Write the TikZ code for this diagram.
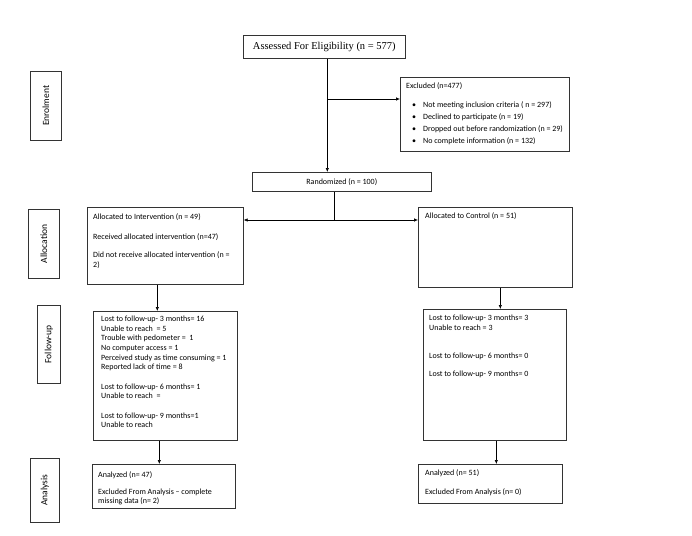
\documentclass[tikz,border=0pt]{standalone}
\usepackage{fontspec}
\setmainfont{Carlito}
\newfontfamily\serifx{Liberation Serif}
\usetikzlibrary{arrows.meta}
\begin{document}
\begin{tikzpicture}[x=1pt,y=-1pt,
  box/.style={draw=black!80, line width=0.6pt, inner sep=0pt, anchor=north west, rectangle},
  txt/.style={inner sep=0pt, anchor=base west, font=\fontsize{8}{9.7}\selectfont},
  sidetxt/.style={inner sep=0pt, rotate=90, font=\fontsize{9.5}{11}\selectfont},
  arr/.style={-{Latex[length=4pt,width=3.4pt]}, line width=0.6pt},
  ln/.style={line width=0.6pt}]
\useasboundingbox (0,0) rectangle (692,535);

% side labels
\node[box, minimum width=31pt, minimum height=69pt] (senr) at (30,71) {};
\node[sidetxt] (senrt) at (senr.center) {Enrolment};
\node[box, minimum width=31pt, minimum height=69pt] (salc) at (28,209) {};
\node[sidetxt] (salct) at (salc.center) {Allocation};
\node[box, minimum width=23pt, minimum height=78pt] (sfol) at (37,305) {};
\node[sidetxt] (sfolt) at (sfol.center) {Follow-up};
\node[box, minimum width=29pt, minimum height=64pt] (sana) at (30,458) {};
\node[sidetxt] (sanat) at (sana.center) {Analysis};

% boxes
\node[box, minimum width=162pt, minimum height=23pt] (assess) at (243,35) {};
\node[inner sep=0pt, font=\serifx\fontsize{10.5}{12}\selectfont] (assesst) at (assess.center) {Assessed For Eligibility (n = 577)};

\node[box, minimum width=169pt, minimum height=74pt] (excl) at (400,77) {};
\node[txt] (exclt) at (406,88.5) {Excluded (n=477)};
\node[txt] (exb1) at (412,107.5) {\textbullet};
\node[txt] (exb2) at (412,119.5) {\textbullet};
\node[txt] (exb3) at (412,131.5) {\textbullet};
\node[txt] (exb4) at (412,143.5) {\textbullet};
\node[txt] (ex1) at (423,107.5) {Not meeting inclusion criteria ( n = 297)};
\node[txt] (ex2) at (423,119.5) {Declined to participate (n = 19)};
\node[txt] (ex3) at (423,131.5) {Dropped out before randomization (n = 29)};
\node[txt] (ex4) at (423,143.5) {No complete information (n = 132)};

\node[box, minimum width=179pt, minimum height=19pt] (rand) at (252,172) {};
\node[inner sep=0pt, font=\fontsize{8}{9.7}\selectfont] (randt) at (rand.center) {Randomized (n = 100)};

\node[box, minimum width=156pt, minimum height=77pt] (int) at (87,207) {};
\node[txt] (int1) at (93,219.5) {Allocated to Intervention (n = 49)};
\node[txt] (int2) at (93,239.5) {Received allocated intervention (n=47)};
\node[txt] (int3) at (93,257.5) {Did not receive allocated intervention (n =};
\node[txt] (int4) at (93,267) {2)};

\node[box, minimum width=154pt, minimum height=80pt] (ctl) at (418,207) {};
\node[txt] (ctl1) at (425,218.5) {Allocated to Control (n = 51)};

\node[box, minimum width=144pt, minimum height=129pt] (fint) at (93,311) {};
\node[txt] (fi1) at (101,321.5) {Lost to follow-up- 3 months= 16};
\node[txt] (fi2) at (101,331.2) {Unable to reach~ = 5};
\node[txt] (fi3) at (101,340.8) {Trouble with pedometer = ~1};
\node[txt] (fi4) at (101,350.5) {No computer access = 1};
\node[txt] (fi5) at (101,360.2) {Perceived study as time consuming = 1};
\node[txt] (fi6) at (101,369.8) {Reported lack of time = 8};
\node[txt] (fi7) at (101,389.2) {Lost to follow-up- 6 months= 1};
\node[txt] (fi8) at (101,398.8) {Unable to reach~ =};
\node[txt] (fi9) at (101,418.2) {Lost to follow-up- 9 months=1};
\node[txt] (fi10) at (101,427.8) {Unable to reach};

\node[box, minimum width=143pt, minimum height=131pt] (fctl) at (423,309) {};
\node[txt] (fc1) at (429,320.5) {Lost to follow-up- 3 months= 3};
\node[txt] (fc2) at (429,330.2) {Unable to reach = 3};
\node[txt] (fc3) at (429,358.5) {Lost to follow-up- 6 months= 0};
\node[txt] (fc4) at (429,376.5) {Lost to follow-up- 9 months= 0};

\node[box, minimum width=143pt, minimum height=44pt] (aint) at (92,464) {};
\node[txt] (ai1) at (98,477.5) {Analyzed (n= 47)};
\node[txt] (ai2) at (98,494.5) {Excluded From Analysis -- complete};
\node[txt] (ai3) at (98,503.7) {missing data (n= 2)};

\node[box, minimum width=144pt, minimum height=39pt] (actl) at (418,464) {};
\node[txt] (ac1) at (425,475.5) {Analyzed (n= 51)};
\node[txt] (ac2) at (425,494.5) {Excluded From Analysis (n= 0)};

% connectors
\draw[arr] ([xshift=3pt]assess.south) -- ([xshift=3pt]assess.south |- rand.north);
\coordinate (exin) at ([yshift=-22pt]excl.north west);
\coordinate (exout) at ([xshift=3pt]assess.south |- exin);
\draw[arr] (exout) -- (exin);

\coordinate (rs) at ([xshift=-7.5pt]rand.south);
\coordinate (intin) at ([yshift=-13pt]int.north east);
\coordinate (ctlin) at (ctl.west |- intin);
\coordinate (rj) at (rs |- intin);
\draw[ln] (rs) -- (rj);
\draw[arr] (rj) -- (intin);
\draw[arr] (rj) -- (ctlin);

\draw[arr] ([xshift=-8pt]int.south) -- ([xshift=-8pt]int.south |- fint.north);
\draw[arr] ([xshift=5pt]ctl.south) -- ([xshift=5pt]ctl.south |- fctl.north);
\draw[arr] ([xshift=-6pt]fint.south) -- ([xshift=-6pt]fint.south |- aint.north);
\draw[arr] ([xshift=1.5pt]fctl.south) -- ([xshift=1.5pt]fctl.south |- actl.north);
\end{tikzpicture}
\end{document}
